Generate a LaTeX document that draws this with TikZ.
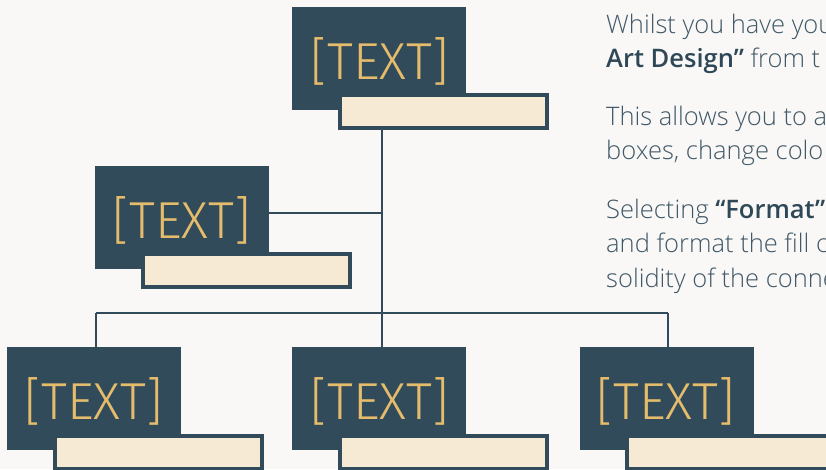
\documentclass[tikz,border=0pt]{standalone}
\usepackage{fontspec}
\IfFontExistsTF{Open Sans Semibold}{\def\mysemibold{Open Sans Semibold}}{%
  \IfFontExistsTF{Open Sans SemiBold}{\def\mysemibold{Open Sans SemiBold}}{%
    \def\mysemibold{Open Sans Bold}}}
\IfFontExistsTF{Open Sans Light}{%
  \setmainfont{Open Sans Light}[BoldFont=\mysemibold]}{%
  \setmainfont{Open Sans}}
\newfontfamily\thinfont{Fira Sans Light}
\definecolor{bg}{RGB}{249,248,246}
\definecolor{slate}{RGB}{50,75,90}
\definecolor{cream}{RGB}{247,234,213}
\definecolor{gold}{RGB}{228,188,108}
\definecolor{bodytxt}{RGB}{64,88,104}
\definecolor{boldtxt}{RGB}{47,72,88}
\tikzset{
  darkbox/.style={fill=slate, draw=none, minimum width=174pt, minimum height=103pt,
    inner sep=0pt, anchor=north west},
  boxtext/.style={text=gold, font=\thinfont\fontsize{52}{52}\selectfont, anchor=center},
  barbox/.style={fill=cream, draw=slate, line width=4pt, minimum width=207pt,
    minimum height=33pt, inner sep=0pt, anchor=north west},
  conn/.style={draw=slate, line width=2.6pt},
  bodyline/.style={anchor=base west, inner sep=0pt, text=bodytxt,
    font=\fontsize{25.5}{25.5}\selectfont}
}
\begin{document}
\begin{tikzpicture}[x=1pt,y=-1pt]
\useasboundingbox (0,0) rectangle (826,469);
\fill[bg] (0,0) rectangle (826,469);
\clip (0,0) rectangle (826,469);
% junction points
\coordinate (jtop) at (382,128);
\coordinate (jmid) at (382,213);
\coordinate (jbus) at (382,313);
\coordinate (busl) at (96,313);
\coordinate (busr) at (668,313);
% boxes
\node[darkbox] (top) at (292,7) {};
\node[darkbox] (left) at (95,166) {};
\node[darkbox] (bl) at (7,347) {};
\node[darkbox] (bm) at (292,347) {};
\node[darkbox] (br) at (580,347) {};
% connectors
\draw[conn] (jtop) -- (bm.north -| jtop);
\draw[conn] (left.east |- jmid) -- (jmid);
\draw[conn] (busl) -- (busr);
\draw[conn] (busl) -- (bl.north -| busl);
\draw[conn] (busr) -- (br.north -| busr);
% texts
\node[boxtext] (ttop) at (380,61) {[TEXT]};
\node[boxtext] (tleft) at (182,220) {[TEXT]};
\node[boxtext] (tbl) at (94,401) {[TEXT]};
\node[boxtext] (tbm) at (380,401) {[TEXT]};
\node[boxtext] (tbr) at (666,401) {[TEXT]};
% bars
\node[barbox] (topbar) at (338,93) {};
\node[barbox] (leftbar) at (141,252) {};
\node[barbox] (blbar) at (53,434) {};
\node[barbox] (bmbar) at (338,434) {};
\node[barbox] (brbar) at (625,434) {};
% right text
\node[bodyline] (l1) at (606,33) {Whilst you have your};
\node[bodyline] (l2) at (606,67.5) {\textcolor{boldtxt}{\textbf{Art Design”}} from t};
\node[bodyline] (l3) at (606,125) {This allows you to a};
\node[bodyline] (l4) at (606,159.5) {boxes, change colo};
\node[bodyline] (l5) at (606,218) {Selecting \textcolor{boldtxt}{\textbf{“Format”}}};
\node[bodyline] (l6) at (606,252.5) {and format the fill co};
\node[bodyline] (l7) at (606,287) {solidity of the conne};
\end{tikzpicture}
\end{document}
